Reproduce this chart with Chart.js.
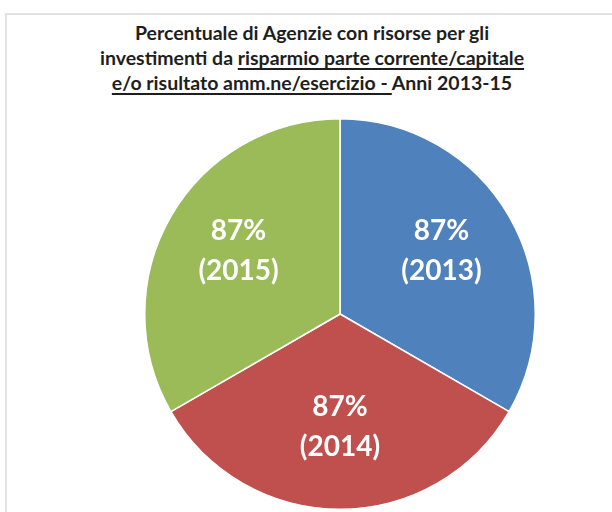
<!DOCTYPE html>
<html>
<head>
<meta charset="utf-8">
<script src="https://cdn.jsdelivr.net/npm/chart.js@4.4.1/dist/chart.umd.min.js"></script>
<style>
  html, body { margin: 0; padding: 0; background: #fff; }
  #wrap { position: relative; width: 612px; height: 512px; overflow: hidden; }
  #frame { position: absolute; left: 5px; top: 13px; right: -10px; bottom: -10px;
           border-left: 2px solid #e2e2e2; border-top: 2px solid #e2e2e2; }
  #title { position: absolute; left: 12px; top: 20px; width: 600px; text-align: center;
           font-family: Lato, "Open Sans", sans-serif; font-weight: bold; font-size: 19.5px;
           line-height: 25px; color: #1e1e1e; }
  #title u { text-decoration-thickness: 1.5px; text-underline-offset: 3px; }
  canvas { position: absolute; left: 0; top: 0; }
</style>
</head>
<body>
<div id="wrap">
  <div id="frame"></div>
  <div id="title">
    Percentuale di Agenzie con risorse per gli<br>
    investimenti da <u>risparmio parte corrente/capitale</u><br>
    <u>e/o risultato amm.ne/esercizio - </u>Anni 2013-15
  </div>
  <canvas id="myChart" width="612" height="512"></canvas>
</div>
<script>
const years = ['2013', '2014', '2015'];
const percentages = [87, 87, 87];
const sliceColors = ['#4f81bd', '#c0504d', '#9bbb59'];

// draws "87%" and "(2013)" inside each slice
const sliceLabels = {
  id: 'sliceLabels',
  afterDatasetsDraw(chart) {
    const ctx = chart.ctx;
    const meta = chart.getDatasetMeta(0);
    ctx.save();
    ctx.fillStyle = '#ffffff';
    ctx.font = 'bold 28px Lato, "Open Sans", sans-serif';
    ctx.textAlign = 'center';
    ctx.textBaseline = 'middle';
    meta.data.forEach((arc, i) => {
      const mid = (arc.startAngle + arc.endAngle) / 2;
      const d = arc.outerRadius * 0.6;
      const x = arc.x + Math.cos(mid) * d;
      const y = arc.y + Math.sin(mid) * d - 4;
      ctx.fillText(percentages[i] + '%', x, y - 20);
      ctx.fillText('(' + years[i] + ')', x, y + 20);
    });
    ctx.restore();
  }
};

const ctx = document.getElementById('myChart').getContext('2d');
const myPieChart = new Chart(ctx, {
  type: 'pie',
  data: {
    labels: years,
    datasets: [{
      data: percentages,
      backgroundColor: sliceColors,
      borderColor: '#ffffff',
      borderWidth: 1.5
    }]
  },
  options: {
    responsive: false,
    animation: false,
    layout: { padding: { top: 118, bottom: 2, left: 144, right: 76 } },
    plugins: {
      legend: { display: false },
      tooltip: { enabled: false }
    }
  },
  plugins: [sliceLabels]
});
</script>
</body>
</html>
